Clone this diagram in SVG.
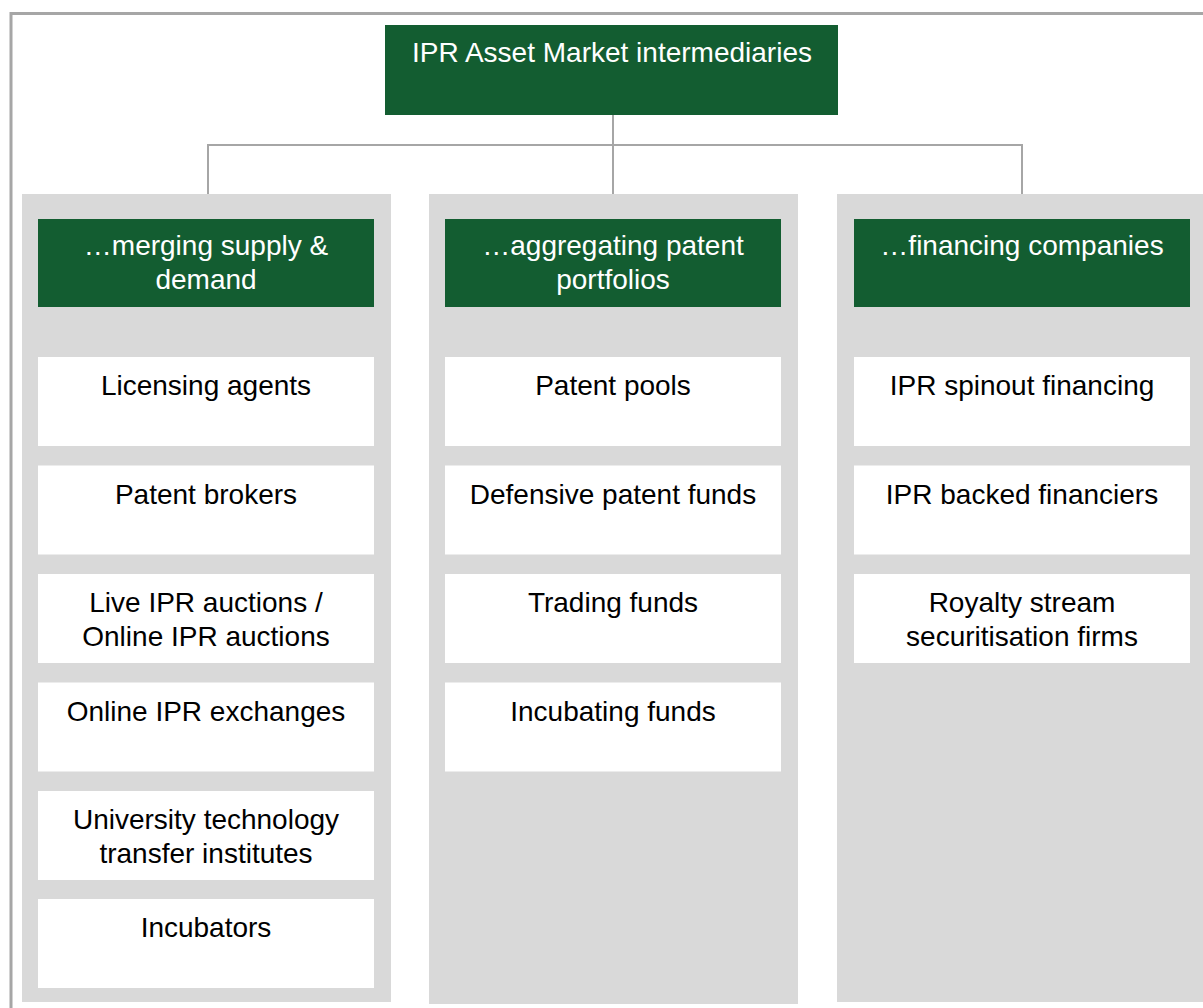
<svg xmlns="http://www.w3.org/2000/svg" width="1203" height="1008" viewBox="0 0 1203 1008">
<style>
.frame{fill:none;stroke:#a6a6a6;stroke-width:3}
.col{fill:#d9d9d9}
.hdr{fill:#135d31}
.item{fill:#ffffff}
.conn{fill:none;stroke:#a6a6a6;stroke-width:2}
text{font-family:"Liberation Sans",Arial,sans-serif;font-size:28px;text-anchor:middle}
.w{fill:#ffffff}
.k{fill:#000000}
</style>
<rect width="1203" height="1008" fill="#ffffff"/>
<rect class="frame" x="11" y="13.5" width="1210" height="1010"/>
<g id="connectors">
<path class="conn" d="M613 115 V195"/>
<path class="conn" d="M208 194 V145 H1022 V194"/>
</g>
<g id="col1"><rect class="col" x="22" y="194" width="369" height="808"/></g>
<g id="col2"><rect class="col" x="429" y="194" width="369" height="810"/></g>
<g id="col3"><rect class="col" x="837" y="194" width="380" height="808"/></g>
<g id="root"><rect class="hdr" x="385" y="25" width="453" height="90"/><text class="w" x="612" y="62">IPR Asset Market intermediaries</text></g>
<g id="h1"><rect class="hdr" x="38" y="219" width="336" height="88"/><text class="w" x="206" y="255">…merging supply &amp;</text><text class="w" x="206" y="289">demand</text></g>
<g id="h2"><rect class="hdr" x="445" y="219" width="336" height="88"/><text class="w" x="613" y="255">…aggregating patent</text><text class="w" x="613" y="289">portfolios</text></g>
<g id="h3"><rect class="hdr" x="854" y="219" width="336" height="88"/><text class="w" x="1022" y="255">…financing companies</text></g>
<g id="c1i1"><rect class="item" x="38" y="357" width="336" height="89"/><text class="k" x="206" y="395">Licensing agents</text></g>
<g id="c1i2"><rect class="item" x="38" y="465.5" width="336" height="89"/><text class="k" x="206" y="503.5">Patent brokers</text></g>
<g id="c1i3"><rect class="item" x="38" y="574" width="336" height="89"/><text class="k" x="206" y="612">Live IPR auctions /</text><text class="k" x="206" y="646">Online IPR auctions</text></g>
<g id="c1i4"><rect class="item" x="38" y="682.5" width="336" height="89"/><text class="k" x="206" y="720.5">Online IPR exchanges</text></g>
<g id="c1i5"><rect class="item" x="38" y="791" width="336" height="89"/><text class="k" x="206" y="829">University technology</text><text class="k" x="206" y="863">transfer institutes</text></g>
<g id="c1i6"><rect class="item" x="38" y="899" width="336" height="89"/><text class="k" x="206" y="937">Incubators</text></g>
<g id="c2i1"><rect class="item" x="445" y="357" width="336" height="89"/><text class="k" x="613" y="395">Patent pools</text></g>
<g id="c2i2"><rect class="item" x="445" y="465.5" width="336" height="89"/><text class="k" x="613" y="503.5">Defensive patent funds</text></g>
<g id="c2i3"><rect class="item" x="445" y="574" width="336" height="89"/><text class="k" x="613" y="612">Trading funds</text></g>
<g id="c2i4"><rect class="item" x="445" y="682.5" width="336" height="89"/><text class="k" x="613" y="720.5">Incubating funds</text></g>
<g id="c3i1"><rect class="item" x="854" y="357" width="336" height="89"/><text class="k" x="1022" y="395">IPR spinout financing</text></g>
<g id="c3i2"><rect class="item" x="854" y="465.5" width="336" height="89"/><text class="k" x="1022" y="503.5">IPR backed financiers</text></g>
<g id="c3i3"><rect class="item" x="854" y="574" width="336" height="89"/><text class="k" x="1022" y="612">Royalty stream</text><text class="k" x="1022" y="646">securitisation firms</text></g>
</svg>
